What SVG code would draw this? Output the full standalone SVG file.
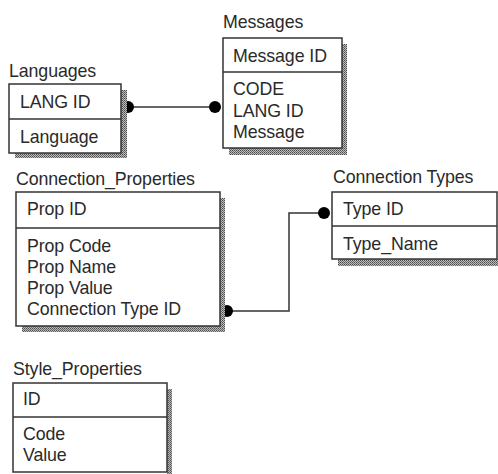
<svg xmlns="http://www.w3.org/2000/svg" width="498" height="474" viewBox="0 0 498 474">
<defs>
<pattern id="hatch" width="2" height="2" patternUnits="userSpaceOnUse">
<rect width="2" height="2" fill="#bdbdbd"/>
<rect width="1" height="1" fill="#4a4a4a"/>
<rect x="1" y="1" width="1" height="1" fill="#6a6a6a"/>
</pattern>
</defs>
<style>
.box{fill:#fff;stroke:#333;stroke-width:1.5}
.div{stroke:#333;stroke-width:1.5}
.sh{fill:url(#hatch)}
text{font-family:"Liberation Sans",Arial,sans-serif;font-size:17.8px;fill:#2a2a2a;letter-spacing:-0.1px}
.conn{fill:none;stroke:#333;stroke-width:1.5}
.dot{fill:#000}
</style>
<rect width="498" height="474" fill="#fff"/>
<g id="connectors">
<line class="conn" x1="128" y1="107" x2="215" y2="107"/>
<polyline class="conn" points="227,311 289,311 289,213 324,213"/>
<circle class="dot" cx="128" cy="107" r="6"/>
<circle class="dot" cx="215" cy="107" r="6"/>
<circle class="dot" cx="227" cy="311" r="6"/>
<circle class="dot" cx="324" cy="213" r="6"/>
</g>
<g id="languages">
<rect class="sh" x="121" y="90" width="6" height="68"/>
<rect class="sh" x="15" y="153" width="112" height="5"/>
<rect class="box" x="9" y="84" width="112" height="69"/>
<line class="div" x1="9" y1="119" x2="121" y2="119"/>
<text x="9" y="77">Languages</text>
<text x="20" y="108">LANG ID</text>
<text x="20" y="143">Language</text>
</g>
<g id="messages">
<rect class="sh" x="342" y="44" width="5" height="111"/>
<rect class="sh" x="229" y="148" width="118" height="7"/>
<rect class="box" x="223" y="38" width="119" height="110"/>
<line class="div" x1="223" y1="72" x2="342" y2="72"/>
<text x="223" y="28">Messages</text>
<text x="233" y="62">Message ID</text>
<text x="233" y="95">CODE</text>
<text x="233" y="116.5">LANG ID</text>
<text x="233" y="138">Message</text>
</g>
<g id="connection_properties">
<rect class="sh" x="220" y="198" width="5" height="134"/>
<rect class="sh" x="22" y="326" width="203" height="6"/>
<rect class="box" x="16" y="192" width="204" height="134"/>
<line class="div" x1="16" y1="228" x2="220" y2="228"/>
<text x="16" y="185">Connection_Properties</text>
<text x="27" y="215">Prop ID</text>
<text x="27" y="252">Prop Code</text>
<text x="27" y="273">Prop Name</text>
<text x="27" y="294">Prop Value</text>
<text x="27" y="315">Connection Type ID</text>
</g>
<g id="connection_types">
<rect class="sh" x="338" y="259" width="160" height="7"/>
<rect class="box" x="332" y="192" width="165" height="67"/>
<line class="div" x1="332" y1="226" x2="497" y2="226"/>
<text x="333" y="183">Connection Types</text>
<text x="343" y="215">Type ID</text>
<text x="343" y="250">Type_Name</text>
</g>
<g id="style_properties">
<rect class="sh" x="167" y="389" width="5" height="85"/>
<rect class="box" x="13" y="383" width="154" height="89"/>
<line class="div" x1="13" y1="417" x2="167" y2="417"/>
<text x="13" y="375">Style_Properties</text>
<text x="23" y="405">ID</text>
<text x="23" y="440">Code</text>
<text x="23" y="461">Value</text>
</g>
</svg>
